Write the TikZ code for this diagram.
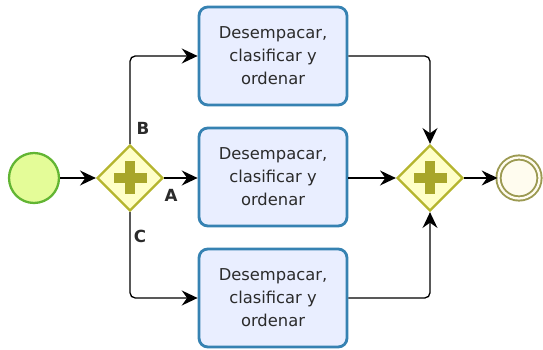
\documentclass[tikz,border=0pt]{standalone}
\usepackage{fontspec}
\setmainfont{DejaVu Sans}
\usetikzlibrary{shapes.geometric,arrows.meta}

\definecolor{startfill}{HTML}{E4FC98}
\definecolor{startline}{HTML}{62B533}
\definecolor{gwfill}{HTML}{FFFFC8}
\definecolor{gwline}{HTML}{B5B52E}
\definecolor{gwplus}{HTML}{A8A62A}
\definecolor{taskfill}{HTML}{E9EEFF}
\definecolor{taskline}{HTML}{3682B2}
\definecolor{endfill}{HTML}{FFFCEF}
\definecolor{endline}{HTML}{9C9A52}
\definecolor{txt}{HTML}{2B2B2B}

\tikzset{
    startev/.style={circle, draw=startline, fill=startfill, line width=1.3pt, minimum size=1cm, inner sep=0pt},
    endev/.style={circle, draw=endline, double=endfill, double distance=1.3pt, fill=endfill, line width=1.1pt, minimum size=0.82cm, inner sep=0pt},
    gateway/.style={diamond, draw=gwline, fill=gwfill, line width=1.3pt, minimum size=1.32cm, inner sep=0pt,
        path picture={
            \fill[gwplus] ([xshift=-0.33cm,yshift=-0.1cm]path picture bounding box.center) rectangle ([xshift=0.33cm,yshift=0.1cm]path picture bounding box.center);
            \fill[gwplus] ([xshift=-0.1cm,yshift=-0.33cm]path picture bounding box.center) rectangle ([xshift=0.1cm,yshift=0.33cm]path picture bounding box.center);
        }},
    task/.style={rectangle, rounded corners=5pt, draw=taskline, fill=taskfill, line width=1.6pt,
        minimum width=2.96cm, minimum height=1.96cm, align=center, text=txt,
        font=\fontsize{9.3}{13}\selectfont},
    flow/.style={draw=black, line width=0.75pt, rounded corners=3pt, -{Stealth[length=9pt,width=8.5pt,inset=3pt]}},
    branch/.style={font=\bfseries\fontsize{9.5}{10}\selectfont, text=txt}
}

\begin{document}
\begin{tikzpicture}[x=0.02cm, y=-0.02cm]
    %% frame of the page, one unit is one pixel
        \useasboundingbox (0,0) rectangle (543,350);
    %% events and gateways
        \node[startev] (start) at (34,178) {};
        \node[gateway] (split) at (130,178) {};
        \node[gateway] (join) at (430,178) {};
        \node[endev] (stop) at (519,178) {};
    %% the three tasks
        \node[task] (taskB) at (273,56) {Desempacar,\\clasificar y\\ordenar};
        \node[task] (taskA) at (273,177) {Desempacar,\\clasificar y\\ordenar};
        \node[task] (taskC) at (273,298) {Desempacar,\\clasificar y\\ordenar};
    %% sequence flows
        \draw[flow] (start) -- (split);
        \draw[flow] (split.north) |- (taskB.west);
        \draw[flow] (split.east) -- (taskA.west |- split.east);
        \draw[flow] (split.south) |- (taskC.west);
        \draw[flow] (taskB.east) -| (join.north);
        \draw[flow] (taskA.east |- join.west) -- (join.west);
        \draw[flow] (taskC.east) -| (join.south);
        \draw[flow] (join) -- (stop);
    %% branch labels
        \node[branch] (lblB) at (143,128) {B};
        \node[branch] (lblA) at (171,195) {A};
        \node[branch] (lblC) at (140,236) {C};
\end{tikzpicture}
\end{document}
